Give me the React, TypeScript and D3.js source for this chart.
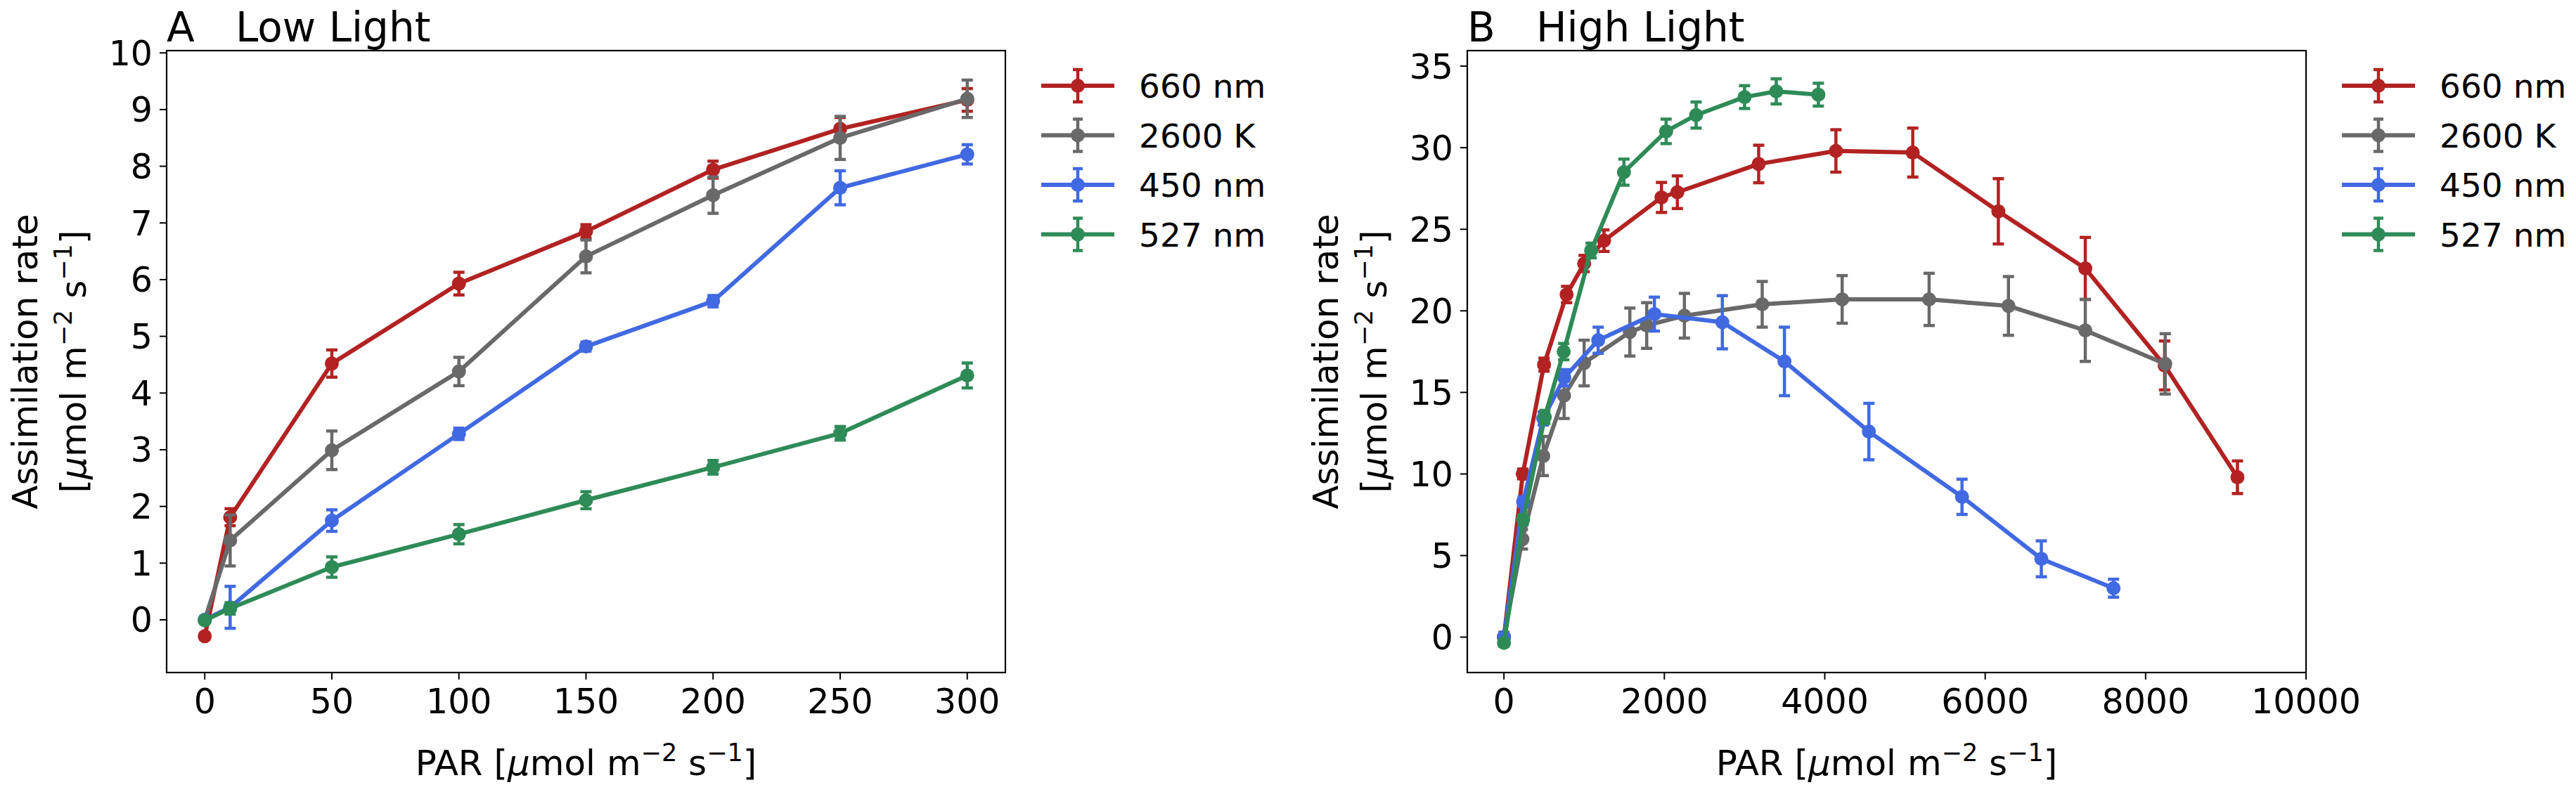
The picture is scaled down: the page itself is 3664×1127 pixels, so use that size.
import * as d3 from "d3";

// ---- data: panel A (low light) ----
const lowPar = [0, 10, 50, 100, 150, 200, 250, 300];
const low660 = [-0.29, 1.81, 4.52, 5.93, 6.85, 7.94, 8.66, 9.17];
const low660Err = [0.05, 0.15, 0.24, 0.2, 0.12, 0.15, 0.2, 0.2];
const low2600 = [0.0, 1.4, 2.99, 4.38, 6.41, 7.49, 8.5, 9.19];
const low2600Err = [0.05, 0.45, 0.34, 0.25, 0.29, 0.32, 0.38, 0.33];
const low450 = [0.0, 0.22, 1.75, 3.28, 4.82, 5.62, 7.62, 8.21];
const low450Err = [0.05, 0.37, 0.19, 0.1, 0.08, 0.1, 0.3, 0.17];
const low527 = [-0.01, 0.2, 0.93, 1.51, 2.11, 2.69, 3.29, 4.31];
const low527Err = [0.05, 0.1, 0.18, 0.17, 0.15, 0.12, 0.12, 0.22];

// ---- data: panel B (high light) ----
const high660Par = [0, 235, 500, 781, 1000, 1248, 1964, 2162, 3176, 4139, 5097, 6164, 7248, 8237, 9145];
const high660 = [0, 10.0, 16.7, 21.0, 22.9, 24.3, 26.95, 27.27, 29.0, 29.8, 29.7, 26.1, 22.6, 16.65, 9.8];
const high660Err = [0.2, 0.3, 0.4, 0.5, 0.5, 0.66, 0.92, 1.0, 1.15, 1.3, 1.5, 2.0, 1.9, 1.5, 1.0];
const high2600Par = [0, 230, 490, 750, 1000, 1570, 1780, 2250, 3220, 4217, 5301, 6290, 7248, 8245];
const high2600 = [0, 6.0, 11.1, 14.8, 16.8, 18.7, 19.1, 19.7, 20.4, 20.7, 20.7, 20.3, 18.8, 16.75];
const high2600Err = [0.3, 0.6, 1.2, 1.4, 1.4, 1.47, 1.4, 1.37, 1.4, 1.46, 1.6, 1.8, 1.9, 1.85];
const high450Par = [0, 240, 490, 752, 1175, 1876, 2723, 3497, 4550, 5711, 6700, 7600];
const high450 = [0, 8.3, 13.4, 15.9, 18.2, 19.8, 19.3, 16.9, 12.6, 8.6, 4.8, 3.0];
const high450Err = [0.2, 0.3, 0.4, 0.5, 0.8, 1.04, 1.63, 2.1, 1.73, 1.08, 1.1, 0.55];
const high527Par = [0, 240, 510, 745, 1087, 1496, 2022, 2396, 3000, 3395, 3920];
const high527 = [-0.35, 7.2, 13.5, 17.5, 23.7, 28.5, 31.0, 32.0, 33.1, 33.45, 33.25];
const high527Err = [0.2, 0.3, 0.4, 0.5, 0.45, 0.8, 0.75, 0.8, 0.7, 0.77, 0.7];

const seriesNames = ["660 nm", "2600 K", "450 nm", "527 nm"];
const seriesColors = ["#b22222", "#696969", "#4169e1", "#2e8b57"];

const lowXTicks = [0, 50, 100, 150, 200, 250, 300];
const lowYTicks = [0, 1, 2, 3, 4, 5, 6, 7, 8, 9, 10];
const highXTicks = [0, 2000, 4000, 6000, 8000, 10000];
const highYTicks = [0, 5, 10, 15, 20, 25, 30, 35];

const FONT = "DejaVu Sans";

type Series = { x: number[]; y: number[]; err: number[] };

type PanelProps = {
  left: number;
  right: number;
  letter: string;
  title: string;
  xDomain: [number, number];
  yDomain: [number, number];
  xTicks: number[];
  yTicks: number[];
  series: Series[];
};

const top = 72;
const bottom = 957;

function Panel({ left, right, letter, title, xDomain, yDomain, xTicks, yTicks, series }: PanelProps) {
  const x = d3.scaleLinear().domain(xDomain).range([left, right]);
  const y = d3.scaleLinear().domain(yDomain).range([bottom, top]);
  const line = d3.line<[number, number]>().x(d => x(d[0])).y(d => y(d[1]));
  const midY = (top + bottom) / 2;
  const midX = (left + right) / 2;
  const legX = right + 103;
  const legY = d3.scaleLinear().domain([0, 3]).range([122, 333.5]);

  return (
    <g fontFamily={FONT}>
      {series.map((s, i) => {
        const pts = s.x.map((v, j) => [v, s.y[j]] as [number, number]);
        const c = seriesColors[i];
        return (
          <g key={i}>
            <path d={line(pts) ?? ""} fill="none" stroke={c} strokeWidth={6} strokeLinejoin="round" />
            {pts.map((p, j) => (
              <g key={j} stroke={c} strokeWidth={4.5}>
                <line x1={x(p[0])} x2={x(p[0])} y1={y(p[1] - s.err[j])} y2={y(p[1] + s.err[j])} />
                <line x1={x(p[0]) - 8} x2={x(p[0]) + 8} y1={y(p[1] - s.err[j])} y2={y(p[1] - s.err[j])} />
                <line x1={x(p[0]) - 8} x2={x(p[0]) + 8} y1={y(p[1] + s.err[j])} y2={y(p[1] + s.err[j])} />
              </g>
            ))}
            {pts.map((p, j) => (
              <circle key={"m" + j} cx={x(p[0])} cy={y(p[1])} r={10} fill={c} />
            ))}
          </g>
        );
      })}

      {/* frame */}
      <rect x={left} y={top} width={right - left} height={bottom - top} fill="none" stroke="#000" strokeWidth={2.2} />

      {/* x axis */}
      {xTicks.map(t => (
        <g key={"x" + t}>
          <line x1={x(t)} x2={x(t)} y1={bottom} y2={bottom + 10} stroke="#000" strokeWidth={2} />
          <text x={x(t)} y={1015} fontSize={49} textAnchor="middle">{t}</text>
        </g>
      ))}
      {/* y axis */}
      {yTicks.map(t => (
        <g key={"y" + t}>
          <line x1={left - 10} x2={left} y1={y(t)} y2={y(t)} stroke="#000" strokeWidth={2} />
          <text x={left - 20} y={y(t) + 17.5} fontSize={49} textAnchor="end">{t}</text>
        </g>
      ))}

      {/* title */}
      <text x={left} y={59} fontSize={58}>{letter}</text>
      <text x={left + 98} y={59} fontSize={58}>{title}</text>

      {/* axis labels */}
      <text x={midX} y={1103} fontSize={50} textAnchor="middle">
        PAR [<tspan fontStyle="italic">μ</tspan>mol m<tspan fontSize={35} dy={-20}>−2</tspan>
        <tspan dy={20}> s</tspan><tspan fontSize={35} dy={-20}>−1</tspan><tspan dy={20}>]</tspan>
      </text>
      <text transform={`translate(${left - 184},${midY}) rotate(-90)`} fontSize={50} textAnchor="middle">
        Assimilation rate
      </text>
      <text transform={`translate(${left - 115},${midY}) rotate(-90)`} fontSize={50} textAnchor="middle">
        [<tspan fontStyle="italic">μ</tspan>mol m<tspan fontSize={35} dy={-20}>−2</tspan>
        <tspan dy={20}> s</tspan><tspan fontSize={35} dy={-20}>−1</tspan><tspan dy={20}>]</tspan>
      </text>

      {/* legend */}
      {seriesNames.map((name, i) => {
        const ly = legY(i);
        const c = seriesColors[i];
        return (
          <g key={name}>
            <line x1={legX - 52} x2={legX + 52} y1={ly} y2={ly} stroke={c} strokeWidth={6} />
            <g stroke={c} strokeWidth={4.5}>
              <line x1={legX} x2={legX} y1={ly - 23} y2={ly + 23} />
              <line x1={legX - 7} x2={legX + 7} y1={ly - 23} y2={ly - 23} />
              <line x1={legX - 7} x2={legX + 7} y1={ly + 23} y2={ly + 23} />
            </g>
            <circle cx={legX} cy={ly} r={10} fill={c} />
            <text x={legX + 87} y={ly + 17} fontSize={47}>{name}</text>
          </g>
        );
      })}
    </g>
  );
}

export default function App() {
  const lowSeries: Series[] = [
    { x: lowPar, y: low660, err: low660Err },
    { x: lowPar, y: low2600, err: low2600Err },
    { x: lowPar, y: low450, err: low450Err },
    { x: lowPar, y: low527, err: low527Err },
  ];
  const highSeries: Series[] = [
    { x: high660Par, y: high660, err: high660Err },
    { x: high2600Par, y: high2600, err: high2600Err },
    { x: high450Par, y: high450, err: high450Err },
    { x: high527Par, y: high527, err: high527Err },
  ];

  return (
    <svg
      width={3664}
      height={1127}
      style={{ position: "absolute", left: 0, top: 0, background: "#fff" }}
    >
      <rect width={3664} height={1127} fill="#fff" />
      <Panel
        left={237}
        right={1430}
        letter="A"
        title="Low Light"
        xDomain={[-15, 315]}
        yDomain={[-0.93, 10.04]}
        xTicks={lowXTicks}
        yTicks={lowYTicks}
        series={lowSeries}
      />
      <Panel
        left={2087}
        right={3280}
        letter="B"
        title="High Light"
        xDomain={[-457, 10000]}
        yDomain={[-2.17, 35.95]}
        xTicks={highXTicks}
        yTicks={highYTicks}
        series={highSeries}
      />
    </svg>
  );
}
